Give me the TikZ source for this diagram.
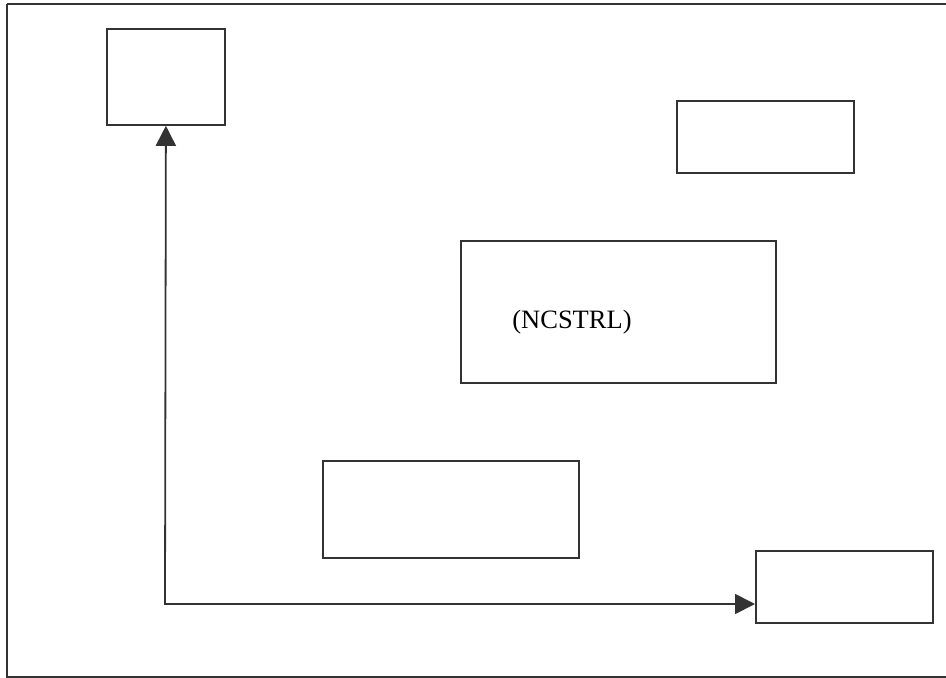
\documentclass[tikz,border=0pt]{standalone}
\usepackage{fontspec}
\setmainfont{Liberation Serif}
\usetikzlibrary{arrows.meta}
\begin{document}
\begin{tikzpicture}[x=1pt,y=-1pt,
  boxnode/.style={draw=black!80,line width=1.8pt,fill=white,inner sep=0pt,anchor=north west},
  conn/.style={draw=black!80,line width=1.8pt,{Triangle[length=20pt,width=20pt]}-{Triangle[length=20pt,width=20pt]}}]
\useasboundingbox (0,0) rectangle (946,678);
\draw[black!80,line width=2pt] (7,4) -- (960,4) (7,4) -- (7,677) -- (960,677);
\node[boxnode,minimum width=118pt,minimum height=96pt] (a) at (106,28) {};
\node[boxnode,minimum width=177pt,minimum height=72pt] (b) at (676,100) {};
\node[boxnode,minimum width=315pt,minimum height=142pt] (c) at (460,240) {};
\node[font=\fontsize{26.5}{30}\selectfont] (ct) at (572,322) {(NCSTRL)};
\node[boxnode,minimum width=256pt,minimum height=97pt] (d) at (322,460) {};
\node[boxnode,minimum width=177pt,minimum height=72pt] (e) at (755,550) {};
\coordinate (k) at (165,604);
\draw[conn] (a.south) -- (k) -- (k -| e.west);
\end{tikzpicture}
\end{document}
